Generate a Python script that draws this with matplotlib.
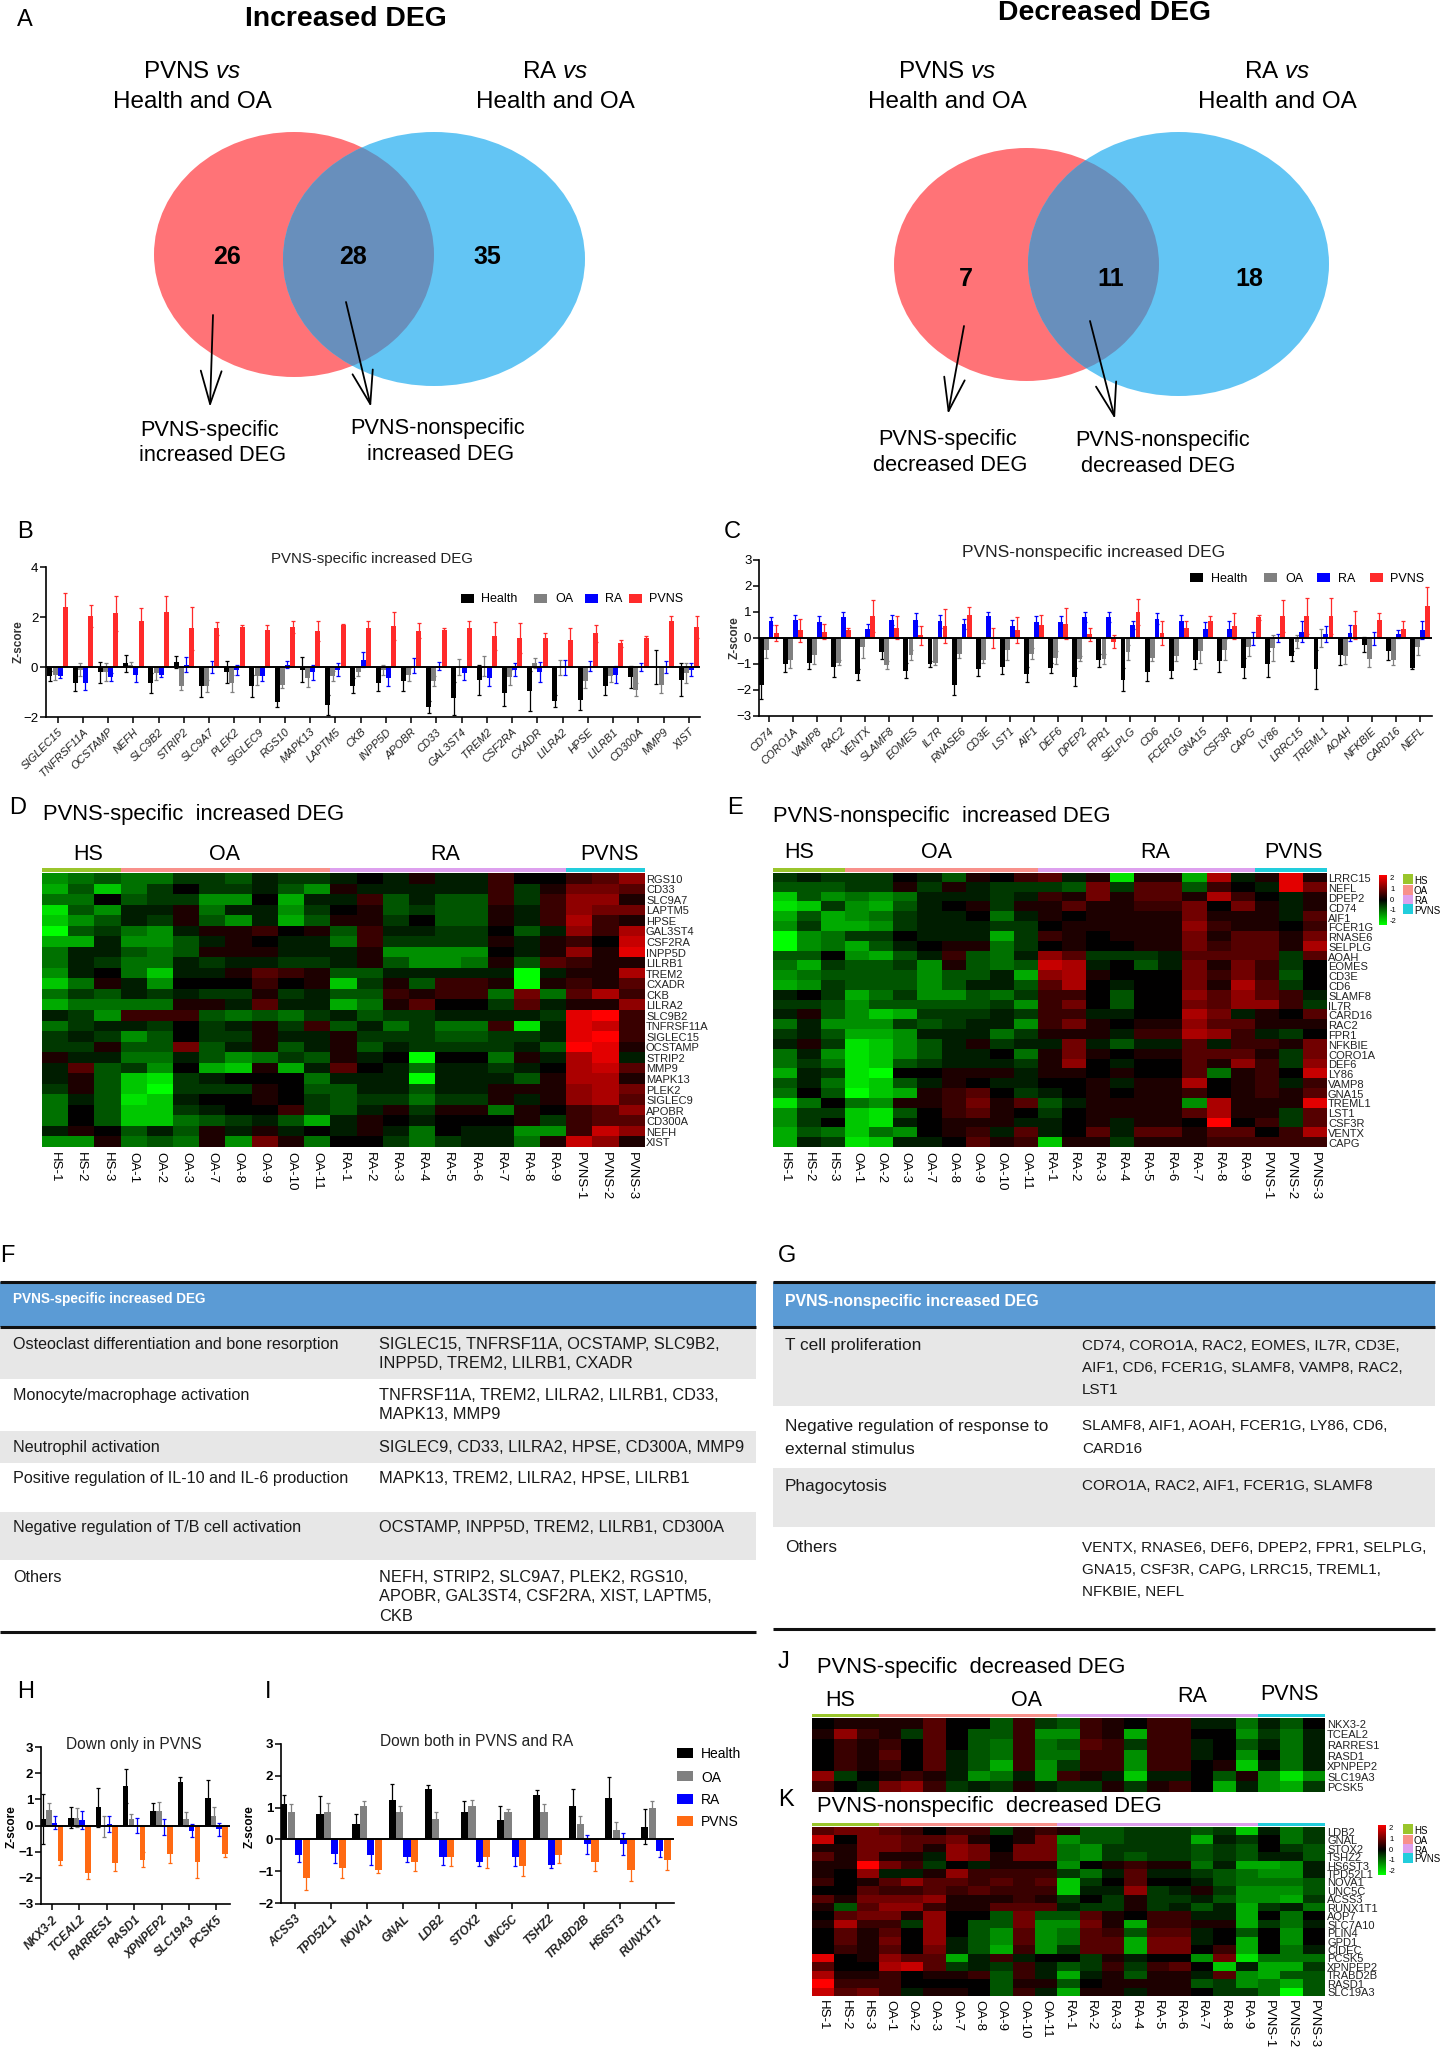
import matplotlib
matplotlib.use('Agg')
import matplotlib.pyplot as plt
import numpy as np
from matplotlib.colors import LinearSegmentedColormap, ListedColormap
from matplotlib.patches import Ellipse, Rectangle

plt.rcParams['font.family'] = ['Liberation Sans', 'DejaVu Sans']
plt.rcParams['mathtext.fontset'] = 'custom'
plt.rcParams['mathtext.rm'] = 'Liberation Sans'
plt.rcParams['mathtext.it'] = 'Liberation Sans:italic'

W, H = 1442, 2054

# venn counts
venn_up = ['26', '28', '35']
venn_down = ['7', '11', '18']

# panel B
b_genes = ['SIGLEC15', 'TNFRSF11A', 'OCSTAMP', 'NEFH', 'SLC9B2', 'STRIP2', 'SLC9A7', 'PLEK2', 'SIGLEC9',
           'RGS10', 'MAPK13', 'LAPTM5', 'CKB', 'INPP5D', 'APOBR', 'CD33', 'GAL3ST4', 'TREM2', 'CSF2RA',
           'CXADR', 'LILRA2', 'HPSE', 'LILRB1', 'CD300A', 'MMP9', 'XIST']
b_health = [-.35, -.65, -.2, .15, -.65, .2, -.75, -.2, -.75, -1.4, -.1, -1.5, -.75, -.65, -.55, -1.6, -1.25, -.5,
            -1.05, -.95, -1.35, -1.3, -.75, -.4, 0, -.5]
b_health_e = [.2, .3, .42, .35, .4, .25, .45, .45, .45, .2, .5, .4, .3, .3, .4, .25, .65, .6, .5, .8, .25, .4, .35,
              .45, .68, .65]
b_oa = [-.3, -.1, -.2, .1, -.25, -.75, -.75, -.65, -.35, -.7, -.45, -.35, -.2, -.1, -.3, -.55, 0, .05, -.4, .15, 0,
        -.55, -.35, -.9, -.7, -.25]
b_oa_e = [.2, .25, .35, .1, .25, .15, .25, .35, .35, .15, .35, .2, .15, .2, .25, .2, .32, .4, .3, .2, .3, .3, .25,
          .25, .35, .4]
b_ra = [-.35, -.65, -.4, -.3, -.3, .1, 0, -.1, -.35, .1, -.2, -.1, .3, -.45, .05, .05, -.25, -.45, -.1, -.2, 0, .05,
        -.3, 0, 0, -.1]
b_ra_e = [.1, .25, .15, .3, .1, .3, .25, .2, .2, .15, .3, .25, .3, .3, .3, .15, .25, .3, .25, .4, .3, .2, .35, .15,
          .25, .25]
b_pvns = [2.4, 2.05, 2.15, 1.85, 2.2, 1.55, 1.55, 1.6, 1.5, 1.6, 1.45, 1.7, 1.55, 1.65, 1.45, 1.5, 1.55, 1.25, 1.15,
          1.15, 1.1, 1.35, .95, 1.15, 1.85, 1.6]
b_pvns_e = [.55, .45, .7, .5, .65, .85, .25, .1, .2, .25, .4, .02, .3, .55, .3, .05, .3, .55, .6, .2, .45, .35, .15,
            .1, .2, .45]

# panel C
c_genes = ['CD74', 'CORO1A', 'VAMP8', 'RAC2', 'VENTX', 'SLAMF8', 'EOMES', 'IL7R', 'RNASE6', 'CD3E', 'LST1', 'AIF1',
           'DEF6', 'DPEP2', 'FPR1', 'SELPLG', 'CD6', 'FCER1G', 'GNA15', 'CSF3R', 'CAPG', 'LY86', 'LRRC15', 'TREML1',
           'AOAH', 'NFKBIE', 'CARD16', 'NEFL']
c_health = [-1.8, -1.0, -.95, -1.1, -1.4, -.55, -1.25, -1.0, -1.8, -1.2, -1.1, -1.4, -1.15, -1.5, -.85, -1.6, -1.3,
            -1.25, -.85, -.9, -1.15, -1.0, -.7, -1.2, -.65, -.25, -.5, -1.15]
c_health_e = [.55, .3, .25, .4, .2, .25, .3, .1, .4, .25, .3, .3, .2, .35, .25, .45, .35, .3, .35, .4, .4, .5, .2,
              .75, .4, .3, .35, .05]
c_oa = [-.45, -.85, -.65, -.95, -.35, -1.05, -.65, -.95, -.6, -.85, -.45, -.6, -.75, -.8, -.8, -.55, -.75, -.7, -.5,
        -.45, -.35, -.4, -.15, 0, -.7, -.8, -.85, -.35]
c_oa_e = [.3, .3, .35, .1, .4, .15, .2, .1, .15, .1, .4, .2, .25, .1, .2, .3, .15, .2, .45, .4, .35, .5, .25, .35,
          .3, .3, .2, .3]
c_ra = [.65, .7, .6, .8, .35, .7, .7, .65, .55, .85, .45, .6, .6, .8, .8, .5, .75, .65, .35, .35, 0, 0, .25, .15,
        .2, 0, .15, .3]
c_ra_e = [.15, .2, .25, .2, .2, .2, .25, .25, .2, .15, .25, .25, .25, .2, .2, .15, .2, .25, .25, .3, .25, .15, .4,
          .3, .3, .25, .15, .35]
c_pvns = [.2, .3, .25, .3, .85, .4, .1, .45, .9, 0, .3, .5, .55, .15, -.15, 1.0, .2, .4, .65, .45, .8, .85, .85, .85,
          .5, .7, .35, 1.25]
c_pvns_e = [.3, .45, .3, .1, .6, .45, .35, .65, .3, .4, .5, .4, .6, .25, .25, .5, .45, .25, .2, .5, .1, .6, .7, .7,
            .55, .25, .3, .7]

# panel H
h_genes = ['NKX3-2', 'TCEAL2', 'RARRES1', 'RASD1', 'XPNPEP2', 'SLC19A3', 'PCSK5']
h_health = [.25, .3, .7, 1.5, .55, 1.65, 1.05]
h_health_e = [.95, .4, .75, .65, .3, .2, .7]
h_oa = [.6, .3, -.05, .25, .55, .25, .35]
h_oa_e = [.25, .35, .4, .2, .35, .25, .35]
h_ra = [.1, .2, .05, 0, -.05, -.2, -.15]
h_ra_e = [.25, .35, .3, .3, .3, .25, .25]
h_pvns = [-1.35, -1.8, -1.45, -1.3, -1.1, -1.4, -1.1]
h_pvns_e = [.15, .25, .3, .3, .35, .6, .1]

# panel I
i_genes = ['ACSS3', 'TPD52L1', 'NOVA1', 'GNAL', 'LDB2', 'STOX2', 'UNC5C', 'TSHZ2', 'TRABD2B', 'HS6ST3', 'RUNX1T1']
i_health = [1.1, .8, .5, 1.25, 1.6, .85, .6, 1.4, 1.05, 1.3, .4]
i_health_e = [.3, .55, .3, .5, .1, .35, .45, .15, .55, .65, .55]
i_oa = [.85, .85, 1.05, .85, .65, 1.05, .85, .85, .5, .3, 1.0]
i_oa_e = [.25, .3, .15, .2, .2, .2, .1, .25, .25, .25, .2]
i_ra = [-.5, -.45, -.5, -.55, -.55, -.7, -.55, -.8, -.15, -.15, -.35]
i_ra_e = [.2, .3, .3, .15, .25, .15, .3, .1, .3, .35, .2]
i_pvns = [-1.2, -.9, -.95, -.7, -.55, -.55, -.85, -.5, -.7, -.95, -.65]
i_pvns_e = [.4, .3, .1, .3, .3, .35, .3, .25, .3, .35, .3]

# heatmaps
samples = ['HS-1', 'HS-2', 'HS-3', 'OA-1', 'OA-2', 'OA-3', 'OA-7', 'OA-8', 'OA-9', 'OA-10', 'OA-11', 'RA-1', 'RA-2',
           'RA-3', 'RA-4', 'RA-5', 'RA-6', 'RA-7', 'RA-8', 'RA-9', 'PVNS-1', 'PVNS-2', 'PVNS-3']
sample_groups = [0] * 3 + [1] * 8 + [2] * 9 + [3] * 3

d_rows = ['RGS10', 'CD33', 'SLC9A7', 'LAPTM5', 'HPSE', 'GAL3ST4', 'CSF2RA', 'INPP5D', 'LILRB1', 'TREM2', 'CXADR',
          'CKB', 'LILRA2', 'SLC9B2', 'TNFRSF11A', 'SIGLEC15', 'OCSTAMP', 'STRIP2', 'MMP9', 'MAPK13', 'PLEK2',
          'SIGLEC9', 'APOBR', 'CD300A', 'NEFH', 'XIST']
d_vals = [
    [-5, -4, -3, -4, -4, -2, -2, -3, -1, -2, -2, -1, 0, -1, 1, -1, -1, 2, 0, 0, 2, 3, 5],
    [-6, -3, -7, -4, -2, 0, -2, -2, -1, -3, -5, 1, -1, -1, -1, -1, -1, 2, -2, 1, 4, 4, 3],
    [-4, -4, 0, -3, -2, -2, -5, -5, 0, -6, -1, -1, 2, -3, -1, -3, -3, 2, -2, 2, 5, 5, 1],
    [-8, -3, -5, -1, -1, 1, -4, -1, -1, -5, -2, 0, 1, -3, -2, -3, -3, 1, -1, 2, 5, 4, 4],
    [-7, -5, -3, -1, -2, 1, -3, -5, -1, -6, -3, 1, 1, -2, 0, -3, -3, 1, -1, 2, 6, 2, 1],
    [-9, -3, -2, -4, -5, -1, 1, 1, 2, 0, 1, -3, 2, -1, -1, -2, -2, 0, -3, -1, 5, 2, 6],
    [-6, -6, -1, -5, -5, -3, -1, 1, 0, -1, -1, -4, 2, -2, -2, -2, -2, 1, -1, 1, 2, 0, 7],
    [-4, -1, -1, -3, -4, -3, 1, 1, 1, -1, -1, -1, 1, -5, -5, -5, -5, 0, -1, 1, 5, 1, 8],
    [-4, -1, -2, -4, -4, -1, -2, -1, -1, -2, -2, -1, 1, -3, -5, -5, -4, 1, -3, 3, 2, 1, 1],
    [-5, -1, 0, -4, -7, -1, -1, 1, 3, 2, 1, -3, -3, -1, -1, -1, -1, -1, -9, -1, 1, 1, 6],
    [-7, -4, 1, -1, -5, 0, 0, 0, 2, 0, 1, -7, -2, 1, -3, 2, 2, 1, -9, 1, 2, 1, 3],
    [-4, -2, -3, -1, -2, -1, -2, -2, 1, -2, -1, -3, -3, 2, 1, 2, 2, -4, 4, -4, 3, 6, 2],
    [-6, -4, -4, -4, -4, 1, 1, -1, 3, -1, -1, -6, -4, 1, 3, 0, 0, -2, 3, -1, 1, 1, 5],
    [-1, -2, -5, 2, 2, 2, -3, -4, -3, -4, -2, -1, -3, -2, -2, -1, -1, -1, -1, -2, 8, 9, 2],
    [-4, -2, -1, -1, -2, 0, -2, -1, 1, -2, 2, -3, -1, -4, -2, -4, -4, 2, -8, -1, 8, 7, 2],
    [-2, -1, -2, -5, -3, 0, -2, -2, 1, -1, -1, 1, -2, -2, -2, -3, -3, -2, -2, -1, 8, 9, 2],
    [-2, -2, 1, -3, -3, 4, -3, -1, 1, -3, -1, 1, -3, -1, -2, -2, -2, -2, -1, -3, 9, 8, 1],
    [1, -1, -1, -4, -4, -1, -3, -5, -4, -2, -3, 1, -1, 0, -9, 0, 0, -4, 1, -1, 6, 8, -1],
    [-1, 3, -3, -2, -5, 0, -6, -7, 1, -6, -1, 3, 0, -1, -4, -1, -1, -2, -1, 0, 6, 7, 3],
    [-1, 1, -3, -7, -8, -2, -1, 0, 0, 0, -4, -1, -1, -1, -9, -1, -1, -1, -3, 1, 6, 6, 1],
    [-2, 1, -3, -7, -9, -2, -2, -2, 1, 0, -3, -3, -1, -1, -3, -1, -1, 1, 1, 1, 5, 6, 4],
    [-4, -1, -3, -8, -7, -1, 0, 0, 1, 0, -2, -3, -2, -2, -4, -2, -2, 1, -1, 1, 5, 6, 3],
    [-4, 0, -3, -7, -7, -2, -1, 0, 0, 2, -2, -3, -1, 1, -2, 1, 1, -4, 1, 0, 2, 3, 5],
    [-4, 0, -3, -7, -7, -4, -3, -2, -1, -3, -6, -1, 1, 0, -1, 0, 0, 0, 1, -2, 2, 3, 3],
    [-1, 1, 0, -3, -1, -3, 1, -1, 1, -1, 0, -1, 1, -1, -4, 0, -1, -1, -5, -5, 2, 7, 5],
    [-5, -5, 1, -4, -3, -4, 1, -5, 4, 1, -4, 0, 0, -2, -4, -2, -1, -1, -4, 1, 7, 5, 1],
]

e_rows = ['LRRC15', 'NEFL', 'DPEP2', 'CD74', 'AIF1', 'FCER1G', 'RNASE6', 'SELPLG', 'AOAH', 'EOMES', 'CD3E', 'CD6',
          'SLAMF8', 'IL7R', 'CARD16', 'RAC2', 'FPR1', 'NFKBIE', 'CORO1A', 'DEF6', 'LY86', 'VAMP8', 'GNA15', 'TREML1',
          'LST1', 'CSF3R', 'VENTX', 'CAPG']
e_vals = [
    [-2, -1, -2, -2, -2, 0, -1, -3, 1, 0, 2, 3, -1, 1, -8, 1, 1, -6, 6, -1, 1, 8, 1],
    [-3, -3, -3, -2, -2, 1, -2, 1, -1, -2, -2, -2, -3, 4, -2, 3, 3, -3, 2, 0, -1, 8, 4],
    [-7, -3, -5, -4, -5, -4, -1, -1, -1, -2, -1, 2, 1, 4, 1, 3, 3, 1, 6, 2, 0, -1, 1],
    [-8, -7, -2, -5, -6, -3, -1, 0, 1, -2, 1, 1, 3, 1, 1, 2, 2, 4, 0, 4, 1, -1, 1],
    [-6, -3, -6, -5, -4, -2, -1, -1, 0, -4, -1, 1, 0, 1, 1, 1, 1, 4, 1, 1, 1, -1, 3],
    [-5, -2, -6, -6, -5, -2, -1, -1, -1, -2, -2, 0, 1, 1, 1, 1, 1, 5, 2, 1, 1, 0, 2],
    [-9, -5, -4, -2, -2, 0, -1, -1, -1, -6, -2, 2, 1, 0, 1, 1, 1, 4, 1, 3, 3, 1, 4],
    [-9, -5, -4, -6, -3, -1, 0, 1, 1, -4, -2, 0, 1, 0, 0, 1, 1, 4, 2, 3, 3, 1, 6],
    [-3, -3, 0, -5, -6, -3, -1, 2, -3, -4, -1, 5, 3, -2, -2, -2, -1, 3, 3, 3, 3, -2, 3],
    [-4, -6, -2, -3, -3, -2, -5, 1, -3, -4, -3, 7, 6, -1, 0, -3, -1, 4, 1, 4, 2, -2, 0],
    [-5, -4, -3, -3, -3, -3, -5, -3, -3, -1, -6, 5, 6, 1, 0, 0, 0, 4, 2, 4, 2, -3, 0],
    [-6, -5, -2, -3, -3, -3, -5, -3, -1, -1, -3, 3, 6, 0, -1, 0, 0, 4, 1, 6, 3, -2, 0],
    [-1, 0, -2, -6, -4, -2, -5, -5, -3, -4, -2, 2, 2, 0, -3, 0, 0, 5, 3, 5, 3, 2, -1],
    [-2, -2, -3, -5, -3, -3, -3, -3, -3, -2, -5, 2, 4, 0, -3, 0, 0, 4, 3, 5, 5, 2, -2],
    [-1, 1, -3, -5, -7, -6, -2, -2, -2, -1, -2, 2, 2, -1, -1, 0, 0, 6, 4, -1, 1, 0, 3],
    [-4, -1, -5, -5, -5, -2, -3, -2, -1, -1, -5, 2, 4, 1, 0, 1, 1, 5, 3, 3, 1, 1, 1],
    [-2, -1, -3, -6, -6, -5, -1, -1, -1, -4, -2, 1, 1, 1, -1, 2, 2, 6, 5, 2, -1, -2, 0],
    [-1, 1, -2, -8, -7, -5, -3, -1, 1, -2, -1, -1, 4, -1, -3, -1, -1, 3, -1, 2, 2, 1, 4],
    [-4, -1, -5, -8, -7, -5, -3, -1, -1, 0, -4, 1, 4, 1, 0, 1, 1, 3, 3, 3, 1, -2, 4],
    [-4, -2, -4, -8, -7, -3, -2, -1, -1, -1, -2, 1, 5, 0, -1, 0, 0, 3, 1, 5, 2, -2, 5],
    [-6, -1, -2, -8, -9, 0, 0, 1, 1, 1, -1, 1, 1, 0, 1, 0, 0, 3, -4, 1, 2, 0, 7],
    [-3, -1, -4, -8, -7, -3, -1, 1, 0, -1, -1, 0, 0, 1, -1, 1, 1, 6, 0, 1, 2, -1, 2],
    [-4, 0, -3, -9, -7, -6, 1, 2, 3, 0, -2, -1, 0, 1, 0, 1, 1, 2, 0, 1, 2, 1, 3],
    [-8, -4, 0, -4, -5, 1, 1, 2, 4, 1, 3, -3, -1, 1, 1, 1, 1, -5, 6, 1, 1, 1, 8],
    [-5, -2, -2, -7, -8, -3, 0, 2, 3, 1, 0, -2, 0, 1, 1, 1, 1, 3, 6, 1, 1, -2, 3],
    [-5, -2, 0, -7, -8, -1, 0, 1, 1, 1, -1, -1, 0, 1, -1, 1, 1, 0, 9, 0, 2, -2, 3],
    [-6, -3, -4, -7, -4, -5, 0, 1, 2, -1, 3, -1, 0, 3, -1, 3, 3, 1, 3, 3, 0, 2, 6],
    [-6, -1, -2, -8, -7, -1, -1, 0, 3, 1, 2, -7, 1, 1, -2, 1, 1, 1, 2, 2, 2, 2, 2],
]

j_rows = ['NKX3-2', 'TCEAL2', 'RARRES1', 'RASD1', 'XPNPEP2', 'SLC19A3', 'PCSK5']
j_vals = [
    [0, 1, 1, 1, 1, 3, 0, 0, -3, 2, -2, -3, 2, 1, 0, 2, 2, -1, -1, -4, -1, -3, 0],
    [1, 5, 2, 1, -2, 3, 0, -3, -3, 2, -5, -5, 2, 1, -6, 2, 2, 0, 0, -5, -2, -4, -1],
    [0, 2, 1, 2, 0, 3, 0, -3, -4, 2, -4, -3, 3, 2, -2, 2, 2, -1, 0, -3, -1, -4, -1],
    [0, 2, 1, 3, 0, 3, -1, -3, -4, 2, -4, -4, 2, 2, -5, 2, 2, -1, 0, -5, 0, -4, -1],
    [0, 2, 1, 2, 0, 3, -1, -3, -6, 2, -5, -2, 2, 2, -5, 2, 2, 0, 1, -7, -1, -4, -1],
    [5, -2, 0, 1, 2, 1, -1, -5, -4, -1, -5, 2, 1, -1, -7, -1, -1, 0, -3, 1, -5, -8, -5],
    [2, 0, -1, 4, 5, 2, -2, -1, -2, 1, -1, -2, -2, 1, -2, 1, 2, 0, -6, -1, -5, -6, -2],
]

k_rows = ['LDB2', 'GNAL', 'STOX2', 'TSHZ2', 'HS6ST3', 'TPD52L1', 'NOVA1', 'UNC5C', 'ACSS3', 'RUNX1T1', 'AQP7',
          'SLC7A10', 'PLIN4', 'GPD1', 'CIDEC', 'PCSK5', 'XPNPEP2', 'TRABD2B', 'RASD1', 'SLC19A3']
k_vals = [
    [3, 4, 4, 3, 2, 0, 2, 2, -2, 1, 2, 1, -3, -3, -2, -2, -2, -3, -2, -7, -1, -4, -2],
    [7, 0, 4, 4, 3, 3, 4, 1, 0, 1, 4, -5, -3, -3, -2, -2, -2, -6, -1, -2, 0, -4, -2],
    [1, 1, 4, 4, 3, 1, 5, 4, 0, 4, 4, -4, -5, -2, -2, -2, -2, -3, -2, -3, 0, -2, -3],
    [3, 1, 4, 1, 1, -1, 5, 4, 1, 4, 4, -4, -5, -2, -3, -2, -2, -3, -2, -3, -1, -1, -3],
    [1, 1, 9, 4, 2, -2, 0, -1, 1, 1, 1, -5, 0, 1, 2, 1, 1, -4, -1, -6, -6, -5, -1],
    [1, 0, 5, -1, -1, 1, 5, 2, 2, 2, 2, -2, -4, -1, 3, -1, -1, -2, -3, -4, -5, -5, -1],
    [2, 0, 1, 3, 5, 3, 3, 2, 3, 2, 3, -7, -2, 0, 3, 0, 0, -1, -3, -4, -4, -4, -3],
    [0, 0, 3, 2, 2, 3, 2, 3, 2, 2, 2, -7, -1, -1, 5, -2, -1, 1, -2, -5, -5, -5, -3],
    [3, 1, 4, 4, 4, 5, 1, 1, 1, 2, 1, -2, 0, -2, 1, -2, -2, -1, -3, -5, -5, -6, -2],
    [1, -3, 3, 5, 5, 2, 1, 1, 3, 3, 3, -1, -2, -2, 1, -2, -1, -3, -1, -6, -2, -1, -4],
    [0, 3, 4, 4, 1, 5, 0, 0, -3, 4, -3, -3, 3, 1, 0, 2, 2, -1, -1, -6, 0, -4, 0],
    [1, 6, 2, 2, -2, 5, 0, -3, -3, 4, -5, -5, 4, 1, -6, 2, 2, 1, 1, -6, -2, -4, -1],
    [0, 3, 1, 3, 0, 5, 0, -3, -5, 3, -5, -4, 3, 2, -3, 3, 3, -1, 0, -3, 0, -5, 0],
    [0, 3, 1, 4, 0, 5, -1, -3, -5, 3, -5, -4, 3, 3, -6, 4, 4, -1, 0, -6, 0, -5, 0],
    [0, 2, 1, 3, 0, 4, -1, -3, -6, 2, -5, -2, 3, 3, -6, 4, 4, 0, 2, -6, 0, -4, -1],
    [8, 0, 1, 5, 3, 3, -6, -1, 2, -1, 0, 0, -2, 1, -1, 0, 0, -5, 4, -8, -4, -4, -4],
    [3, 0, 0, 6, 7, 3, -2, -1, -2, 2, -1, -3, -2, 2, -2, 2, 3, 0, -7, -1, -6, -6, -2],
    [6, 1, 1, 2, 0, 1, 1, 2, -3, 2, -1, -6, -1, 1, -3, 1, 1, -1, 3, -5, -6, -3, -3],
    [9, 2, 2, 2, 0, 0, 0, 0, -3, 1, 1, -3, 0, 1, 1, 1, 1, -3, -2, -5, -4, -6, -3],
    [7, 3, 4, 2, -1, 1, 1, 0, -3, 2, -1, -6, 1, 1, -1, 1, 1, 0, -2, -2, -4, -9, -3],
]

group_names = ['HS', 'OA', 'RA', 'PVNS']
group_colors = ['#9AC52C', '#F8918B', '#DDA0EE', '#22CDDC']
colorbar_labels = ['2', '1', '0', '-1', '-2']

# tables
f_left = ['Osteoclast differentiation and bone resorption', 'Monocyte/macrophage activation', 'Neutrophil activation',
          'Positive regulation of IL-10 and IL-6 production', 'Negative regulation of T/B cell activation', 'Others']
f_right = ['SIGLEC15, TNFRSF11A, OCSTAMP, SLC9B2,\nINPP5D, TREM2, LILRB1, CXADR',
           'TNFRSF11A, TREM2, LILRA2, LILRB1, CD33,\nMAPK13, MMP9',
           'SIGLEC9, CD33, LILRA2, HPSE, CD300A, MMP9',
           'MAPK13, TREM2, LILRA2, HPSE, LILRB1',
           'OCSTAMP, INPP5D, TREM2, LILRB1, CD300A',
           'NEFH, STRIP2, SLC9A7, PLEK2, RGS10,\nAPOBR, GAL3ST4, CSF2RA, XIST, LAPTM5,\nCKB']
g_left = ['T cell proliferation', 'Negative regulation of response to\nexternal stimulus', 'Phagocytosis', 'Others']
g_right = ['CD74, CORO1A, RAC2, EOMES, IL7R, CD3E,\nAIF1, CD6, FCER1G, SLAMF8, VAMP8, RAC2,\nLST1',
           'SLAMF8, AIF1, AOAH, FCER1G, LY86, CD6,\nCARD16',
           'CORO1A, RAC2, AIF1, FCER1G, SLAMF8',
           'VENTX, RNASE6, DEF6, DPEP2, FPR1, SELPLG,\nGNA15, CSF3R, CAPG, LRRC15, TREML1,\nNFKBIE, NEFL']

fig = plt.figure(figsize=(W / 100, H / 100), dpi=100, facecolor='white')


def px_axes(x0, y0, x1, y1):
    # axes from pixel box, y counted from the top
    return fig.add_axes([x0 / W, 1 - y1 / H, (x1 - x0) / W, (y1 - y0) / H])


top = fig.add_axes([0, 0, 1, 1], zorder=10)
top.set_xlim(0, W)
top.set_ylim(H, 0)
top.axis('off')
top.patch.set_alpha(0)


def label(x, y, s, size=16, ha='center', va='center', **kw):
    # text sits a bit high with va=center
    top.text(x, y + 1.5, s, fontsize=size, ha=ha, va=va, **kw)


def venn(red_box, blue_box):
    x0, y0, x1, y1 = red_box
    red = Ellipse(((x0 + x1) / 2, (y0 + y1) / 2), x1 - x0, y1 - y0, color='#FF7377', lw=0)
    top.add_patch(red)
    bx0, by0, bx1, by1 = blue_box
    blue = Ellipse(((bx0 + bx1) / 2, (by0 + by1) / 2), bx1 - bx0, by1 - by0, color='#63C5F4', lw=0)
    top.add_patch(blue)
    both = Ellipse(((x0 + x1) / 2, (y0 + y1) / 2), x1 - x0, y1 - y0, color='#688FBC', lw=0)
    top.add_patch(both)
    both.set_clip_path(blue)


def arrow(x0, y0, x1, y1):
    top.annotate('', xy=(x1, y1), xytext=(x0, y0),
                 arrowprops=dict(arrowstyle='->,head_length=0.7,head_width=0.22', lw=1.3, color='black',
                                 mutation_scale=34, shrinkA=0, shrinkB=0))


def bars(box, genes, series, colors, xlim, ylim, yticks, bold=False, label_size=8):
    ax = px_axes(*box)
    ax.patch.set_alpha(0)
    pos = np.arange(len(genes))
    offsets = [-0.31, -0.1, 0.1, 0.31]
    for k in range(4):
        means, errs = series[k]
        ax.bar(pos + offsets[k], means, 0.2, color=colors[k], zorder=2)
        ax.errorbar(pos + offsets[k], means, yerr=errs, fmt='none', ecolor=colors[k], elinewidth=0.9,
                    capsize=1.2, capthick=0.9, zorder=1)
    ax.axhline(0, color='black', lw=1.4, zorder=3)
    ax.set_xlim(*xlim)
    ax.set_ylim(*ylim)
    ax.set_yticks(yticks)
    ax.spines['top'].set_visible(False)
    ax.spines['right'].set_visible(False)
    ax.spines['left'].set_linewidth(1.2)
    ax.spines['bottom'].set_linewidth(1.2)
    w = 'bold' if bold else 'normal'
    ax.set_xticks(pos)
    ax.set_xticklabels(genes, rotation=45, ha='right', rotation_mode='anchor', fontsize=label_size,
                       style='italic', weight=w, color='#222222')
    ax.tick_params(axis='y', labelsize=9.5, length=4, width=1.1, pad=1.5)
    ax.tick_params(axis='x', length=4, width=1.1, pad=3)
    for t in ax.get_yticklabels():
        t.set_fontweight('bold' if bold else 'normal')
    return ax


def bar_legend(items, y, handle_w=13, size=9):
    for hx, tx, name, col in items:
        top.add_patch(Rectangle((hx - handle_w / 2, y - 4.5), handle_w, 9, color=col, lw=0))
        label(tx, y, name, size=size, ha='left')


def heatmap(box, strip_y, vals, rows, label_x, row_size=8, show_samples=True):
    ax = px_axes(*box)
    ax.imshow(np.array(vals), cmap=green_red, vmin=-9, vmax=9, aspect='auto', interpolation='nearest')
    ax.axis('off')
    sx = px_axes(box[0], strip_y[0], box[2], strip_y[1])
    sx.imshow([sample_groups], cmap=ListedColormap(group_colors), aspect='auto', interpolation='nearest')
    sx.axis('off')
    x0, y0, x1, y1 = box
    row_h = (y1 - y0) / len(rows)
    for i, r in enumerate(rows):
        label(label_x, y0 + (i + 0.5) * row_h, r, size=row_size, ha='left', color='#222222')
    if show_samples:
        col_w = (x1 - x0) / len(samples)
        for i, s in enumerate(samples):
            label(x0 + (i + 0.5) * col_w, y1 + 3, s, size=9.5, va='top', rotation=270)


def heat_key(x, y0, key_x, key_ys, key_h=10, key_w=10):
    cb = px_axes(x, y0, x + 8, y0 + 50)
    cb.imshow(np.linspace(9, -9, 60).reshape(-1, 1), cmap=green_red, aspect='auto', vmin=-9, vmax=9)
    cb.axis('off')
    for i, t in enumerate(colorbar_labels):
        label(x + 11, y0 + 2 + i * 10.8, t, size=5.5, ha='left')
    for i, name in enumerate(group_names):
        top.add_patch(Rectangle((key_x, key_ys[i] - key_h / 2), key_w, key_h, color=group_colors[i], lw=0))
        label(key_x + key_w + 1, key_ys[i], name, size=7, ha='left')


def table(x0, x1, tx0, tx1, rule_top, head_bot, head_y, title, bands, rule_bot, lefts, rights, ys, spacing, sizes):
    head_size, left_size, right_size = sizes
    top.add_patch(Rectangle((x0, rule_top), x1 - x0, head_bot - rule_top, color='#5B9BD5', lw=0))
    for yb0, yb1 in bands:
        top.add_patch(Rectangle((x0, yb0), x1 - x0, yb1 - yb0, color='#E7E7E7', lw=0))
    for yr, lw in ((rule_top, 2.2), (head_bot, 2.2), (rule_bot, 2.2)):
        top.plot([x0, x1], [yr, yr], color='#111111', lw=lw, solid_capstyle='butt')
    label(tx0, head_y, title, size=head_size, ha='left', color='white', weight='bold')
    for y, a, b in zip(ys, lefts, rights):
        for n, line in enumerate(a.split('\n')):
            label(tx0, y + n * spacing, line, size=left_size, ha='left', color='#1a1a1a')
        for n, line in enumerate(b.split('\n')):
            label(tx1, y + n * spacing, line, size=right_size, ha='left', color='#1a1a1a')


green_red = LinearSegmentedColormap.from_list('gr', ['#00FF00', '#000000', '#FF0000'])

# A
label(25, 19, 'A', size=17)
label(346, 17, 'Increased DEG', size=20.4, weight='bold')
label(1104, 11, 'Decreased DEG', size=20.4, weight='bold')
vs_line = ['PVNS $\\mathit{vs}$', 'RA $\\mathit{vs}$']
for x, t in zip([192, 555, 947, 1277], vs_line * 2):
    label(x, 71, t, size=17.5)
    label(x, 101, 'Health and OA', size=17.5)
venn((154, 132, 434, 377), (283, 132, 585, 386))
venn((894, 148, 1159, 381), (1028, 132, 1329, 396))
for x, t in zip([227, 353, 487], venn_up):
    label(x, 255, t, size=18, weight='bold')
for x, t in zip([966, 1111, 1249], venn_down):
    label(x, 278, t, size=18, weight='bold')
arrow(213, 315, 210, 407)
arrow(346, 302, 371, 407)
arrow(964, 326, 948, 414)
arrow(1090, 321, 1115, 419)
label(210, 429, 'PVNS-specific', size=15.7)
label(213, 454, 'increased DEG', size=15.7)
label(438, 427, 'PVNS-nonspecific', size=15.7)
label(441, 453, 'increased DEG', size=15.7)
label(948, 438, 'PVNS-specific', size=15.7)
label(950, 464, 'decreased DEG', size=15.7)
label(1163, 439, 'PVNS-nonspecific', size=15.7)
label(1158, 465, 'decreased DEG', size=15.7)

red_set = ['black', '#808080', '#0000FF', '#FF2A2A']
orange_set = ['black', '#808080', '#0000FF', '#FF6A13']

# B
label(25, 530, 'B', size=17)
bars((46, 567, 700, 717), b_genes,
     [(b_health, b_health_e), (b_oa, b_oa_e), (b_ra, b_ra_e), (b_pvns, b_pvns_e)],
     red_set, (-0.46, 25.44), (-2, 4), [-2, 0, 2, 4])
label(372, 558, 'PVNS-specific increased DEG', size=10.8, color='#222222')
label(19, 640, 'Z-score', size=8.5, rotation=90, weight='bold', color='#333333')
bar_legend([(467, 481, 'Health', 'black'), (540, 555, 'OA', '#808080'), (591, 605, 'RA', '#0000FF'),
            (635, 649, 'PVNS', '#FF2A2A')], 598)

# C
label(732, 530, 'C', size=17)
bars((759, 560, 1432, 716), c_genes,
     [(c_health, c_health_e), (c_oa, c_oa_e), (c_ra, c_ra_e), (c_pvns, c_pvns_e)],
     red_set, (-0.4, 27.5), (-3, 3), [-3, -2, -1, 0, 1, 2, 3])
label(1094, 551, 'PVNS-nonspecific increased DEG', size=12.5, color='#222222')
label(735, 636, 'Z-score', size=8.5, rotation=90, weight='bold', color='#333333')
bar_legend([(1196, 1211, 'Health', 'black'), (1270, 1285, 'OA', '#808080'), (1323, 1338, 'RA', '#0000FF'),
            (1376, 1390, 'PVNS', '#FF2A2A')], 577)

# D
label(18, 806, 'D', size=17)
label(43, 813, 'PVNS-specific  increased DEG', size=15.8, ha='left')
heatmap((42, 873, 645, 1147), (868, 872), d_vals, d_rows, 646)
for x, t in zip([88, 225, 445, 609], group_names):
    label(x, 853, t, size=15.5)

# E
label(735, 806, 'E', size=17)
label(773, 815, 'PVNS-nonspecific  increased DEG', size=15.8, ha='left')
heatmap((773, 873, 1327, 1147), (868, 872), e_vals, e_rows, 1328)
for x, t in zip([799, 936, 1155, 1294], group_names):
    label(x, 851, t, size=15.5)
heat_key(1379, 875, 1403, [879, 890, 900, 909])

# F
label(7, 1255, 'F', size=17)
f_ys = [1343, 1394, 1446, 1477, 1526, 1576]
table(0, 756, 13, 379, 1282, 1327, 1297, 'PVNS-specific increased DEG',
      [(1329, 1379), (1431, 1463), (1512, 1560)], 1632, f_left, f_right, f_ys, 19.3, (9.8, 11.6, 11.8))

# G
label(787, 1255, 'G', size=17)
g_ys = [1344, 1425, 1485, 1546]
table(773, 1435, 785, 1082, 1282, 1327, 1300, 'PVNS-nonspecific increased DEG',
      [(1329, 1406), (1468, 1527)], 1629, g_left, g_right, g_ys, 22.5, (11.4, 12.4, 11))

# H
label(26, 1691, 'H', size=17)
bars((41, 1747, 230, 1904), h_genes,
     [(h_health, h_health_e), (h_oa, h_oa_e), (h_ra, h_ra_e), (h_pvns, h_pvns_e)],
     orange_set, (-0.4, 6.5), (-3, 3), [-3, -2, -1, 0, 1, 2, 3], bold=True, label_size=8.5)
label(134, 1743, 'Down only in PVNS', size=11.2, color='#222222')
label(12, 1825, 'Z-score', size=8.5, rotation=90, weight='bold')

# I
label(268, 1691, 'I', size=17)
bars((281, 1744, 674, 1903), i_genes,
     [(i_health, i_health_e), (i_oa, i_oa_e), (i_ra, i_ra_e), (i_pvns, i_pvns_e)],
     orange_set, (-0.39, 10.5), (-2, 3), [-2, -1, 0, 1, 2, 3], bold=True, label_size=8.5)
label(477, 1740, 'Down both in PVNS and RA', size=11.2, color='#222222')
label(250, 1825, 'Z-score', size=8.5, rotation=90, weight='bold')
for y, name, col in zip([1753, 1776, 1799, 1821], ['Health', 'OA', 'RA', 'PVNS'], orange_set):
    top.add_patch(Rectangle((677, y - 5), 16, 10, color=col, lw=0))
    label(701, y, name, size=10, ha='left')

# J
label(783, 1661, 'J', size=17)
label(817, 1666, 'PVNS-specific  decreased DEG', size=15.8, ha='left')
heatmap((812, 1718, 1325, 1792), (1714, 1717), j_vals, j_rows, 1327, show_samples=False)
for x, y, t in zip([840, 1026, 1192, 1289], [1699, 1699, 1695, 1693], group_names):
    label(x, y, t, size=15.5)

# K
label(786, 1799, 'K', size=17)
label(817, 1805, 'PVNS-nonspecific  decreased DEG', size=15.8, ha='left')
heatmap((812, 1827, 1325, 1996), (1823, 1826), k_vals, k_rows, 1327)
heat_key(1378, 1825, 1403, [1829, 1840, 1849, 1858])

fig.savefig('out.png', dpi=100)
